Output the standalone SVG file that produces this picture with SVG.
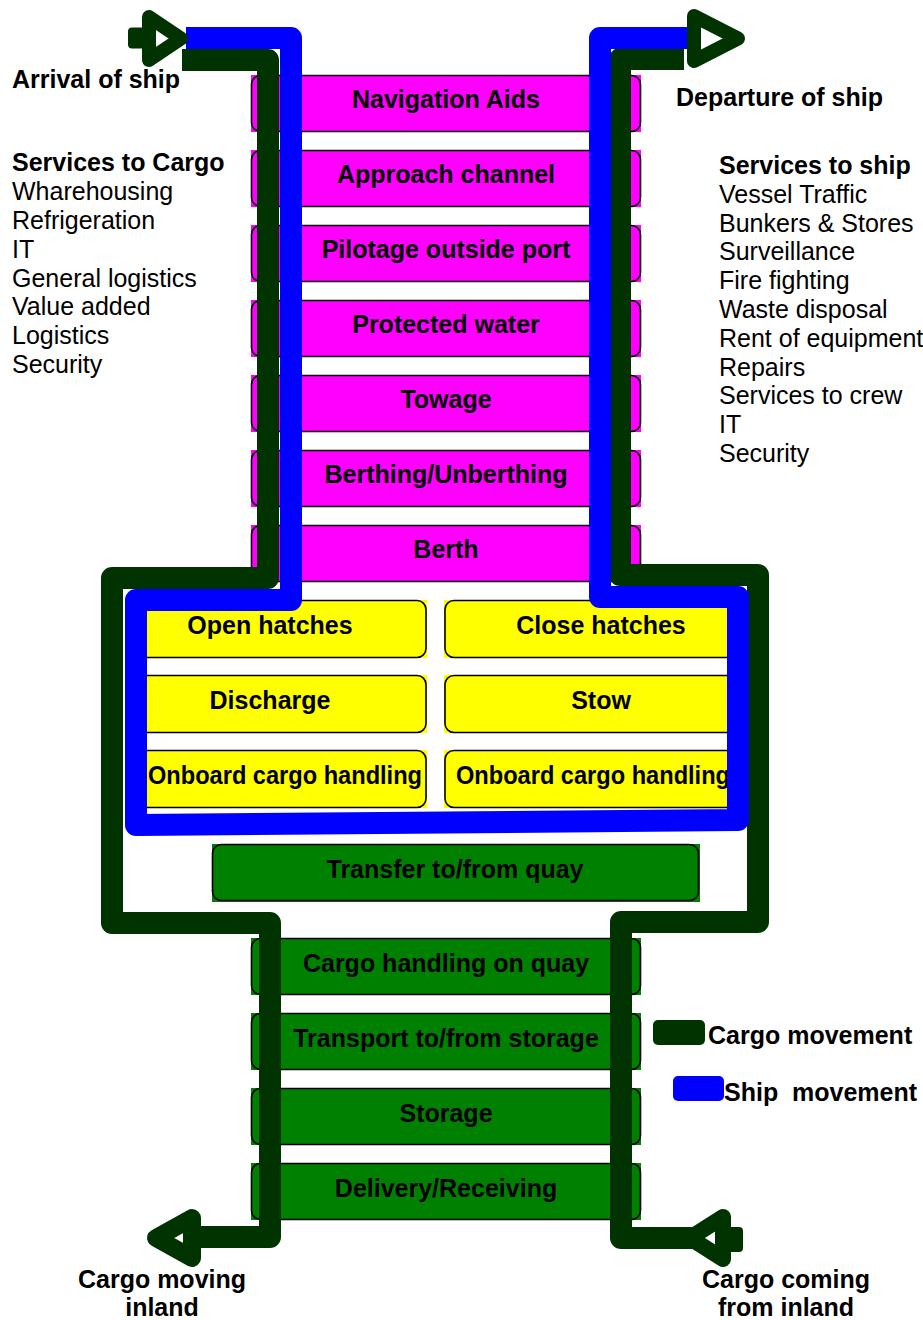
<svg xmlns="http://www.w3.org/2000/svg" width="923" height="1320" viewBox="0 0 923 1320">
<style>
.mf{fill:#FF00FF}
.yf{fill:#FFFF00}
.gf{fill:#008000}
.ol{fill:none;stroke:#000;stroke-width:1.6}
.lbl{font-family:"Liberation Sans",Arial,sans-serif;font-weight:bold;font-size:25px;text-anchor:middle;fill:#000}
.hd{font-family:"Liberation Sans",Arial,sans-serif;font-weight:bold;font-size:25px;fill:#000}
.tx{font-family:"Liberation Sans",Arial,sans-serif;font-size:25px;fill:#000}
.cg{fill:none;stroke:#003300;stroke-width:22;stroke-linejoin:round;stroke-linecap:butt}
.sh{fill:none;stroke:#0000FF;stroke-width:22;stroke-linejoin:round;stroke-linecap:butt}
.ah{fill:#FFFFFF;stroke:#003300;stroke-linejoin:round}
.tail{fill:#003300}
</style>
<rect width="923" height="1320" fill="#FFFFFF"/>

<!-- magenta nodes -->
<g id="navigation-aids"><rect class="mf" x="251" y="75" width="390" height="57"/><rect class="ol" x="251.5" y="75.5" width="389" height="56" rx="9"/><text class="lbl" x="446" y="108">Navigation Aids</text></g>
<g id="approach-channel"><rect class="mf" x="251" y="150" width="390" height="57"/><rect class="ol" x="251.5" y="150.5" width="389" height="56" rx="9"/><text class="lbl" x="446" y="183">Approach channel</text></g>
<g id="pilotage"><rect class="mf" x="251" y="225" width="390" height="57"/><rect class="ol" x="251.5" y="225.5" width="389" height="56" rx="9"/><text class="lbl" x="446" y="258">Pilotage outside port</text></g>
<g id="protected-water"><rect class="mf" x="251" y="300" width="390" height="57"/><rect class="ol" x="251.5" y="300.5" width="389" height="56" rx="9"/><text class="lbl" x="446" y="333">Protected water</text></g>
<g id="towage"><rect class="mf" x="251" y="375" width="390" height="57"/><rect class="ol" x="251.5" y="375.5" width="389" height="56" rx="9"/><text class="lbl" x="446" y="408">Towage</text></g>
<g id="berthing"><rect class="mf" x="251" y="450" width="390" height="57"/><rect class="ol" x="251.5" y="450.5" width="389" height="56" rx="9"/><text class="lbl" x="446" y="483">Berthing/Unberthing</text></g>
<g id="berth"><rect class="mf" x="251" y="525" width="390" height="57"/><rect class="ol" x="251.5" y="525.5" width="389" height="56" rx="9"/><text class="lbl" x="446" y="558">Berth</text></g>

<!-- yellow nodes -->
<g id="open-hatches"><rect class="yf" x="130" y="600" width="297" height="58"/><rect class="ol" x="130" y="600.5" width="296" height="57" rx="9"/><text class="lbl" x="270" y="634">Open hatches</text></g>
<g id="discharge"><rect class="yf" x="130" y="675" width="297" height="58"/><rect class="ol" x="130" y="675.5" width="296" height="57" rx="9"/><text class="lbl" x="270" y="709">Discharge</text></g>
<g id="onboard-left"><rect class="yf" x="130" y="750" width="297" height="58"/><rect class="ol" x="130" y="750.5" width="296" height="57" rx="9"/><text class="lbl" x="285" y="784" textLength="274" lengthAdjust="spacingAndGlyphs">Onboard cargo handling</text></g>
<g id="close-hatches"><rect class="yf" x="444" y="600" width="302" height="58"/><rect class="ol" x="445" y="600.5" width="300" height="57" rx="9"/><text class="lbl" x="601" y="634">Close hatches</text></g>
<g id="stow"><rect class="yf" x="444" y="675" width="302" height="58"/><rect class="ol" x="445" y="675.5" width="300" height="57" rx="9"/><text class="lbl" x="601" y="709">Stow</text></g>
<g id="onboard-right"><rect class="yf" x="444" y="750" width="302" height="58"/><rect class="ol" x="445" y="750.5" width="300" height="57" rx="9"/><text class="lbl" x="593" y="784" textLength="274" lengthAdjust="spacingAndGlyphs">Onboard cargo handling</text></g>

<!-- green nodes -->
<g id="transfer"><rect class="gf" x="212" y="844" width="488" height="58"/><rect class="ol" x="212.5" y="844.5" width="486" height="56" rx="9"/><text class="lbl" x="455" y="878">Transfer to/from quay</text></g>
<g id="cargo-handling-quay"><rect class="gf" x="251" y="938" width="390" height="57"/><rect class="ol" x="251.5" y="938.5" width="389" height="56" rx="9"/><text class="lbl" x="446" y="972">Cargo handling on quay</text></g>
<g id="transport-storage"><rect class="gf" x="251" y="1013" width="390" height="57"/><rect class="ol" x="251.5" y="1013.5" width="389" height="56" rx="9"/><text class="lbl" x="446" y="1047">Transport to/from storage</text></g>
<g id="storage"><rect class="gf" x="251" y="1088" width="390" height="57"/><rect class="ol" x="251.5" y="1088.5" width="389" height="56" rx="9"/><text class="lbl" x="446" y="1122">Storage</text></g>
<g id="delivery"><rect class="gf" x="251" y="1163" width="390" height="57"/><rect class="ol" x="251.5" y="1163.5" width="389" height="56" rx="9"/><text class="lbl" x="446" y="1197">Delivery/Receiving</text></g>

<!-- connectors -->
<g id="connectors">
<path class="cg" d="M182,60 H268 V578 H112 V923 H270 V1237 H194"/>
<path class="cg" d="M684,59 H620 V575 H758 V922 H621 V1238 H692"/>
<path class="sh" d="M186,38 H291 V600 H136 V825 L738,820 V597 H600 V38 H693"/>
<rect class="tail" x="128" y="27.5" width="24" height="21" rx="4"/>
<path class="ah" stroke-width="14" d="M149,17 L181,38.5 L149,60 Z"/>
<path class="ah" stroke-width="14" d="M694,16 L738,38.5 L694,61 Z"/>
<path class="ah" stroke-width="18" d="M192,1218 L156,1238 L192,1258 Z"/>
<rect class="tail" x="718" y="1227" width="25" height="25" rx="4"/>
<path class="ah" stroke-width="16" d="M723,1217 L690,1238 L723,1259 Z"/>
</g>

<!-- side texts -->
<g id="arrival"><text class="hd" x="12" y="88">Arrival of ship</text></g>
<g id="departure"><text class="hd" x="676" y="106">Departure of ship</text></g>
<g id="services-cargo">
<text class="hd" x="12" y="171">Services to Cargo</text>
<text class="tx" x="12" y="200">Wharehousing</text>
<text class="tx" x="12" y="229">Refrigeration</text>
<text class="tx" x="12" y="258">IT</text>
<text class="tx" x="12" y="287">General logistics</text>
<text class="tx" x="12" y="315">Value added</text>
<text class="tx" x="12" y="344">Logistics</text>
<text class="tx" x="12" y="373">Security</text>
</g>
<g id="services-ship">
<text class="hd" x="719" y="174">Services to ship</text>
<text class="tx" x="719" y="203">Vessel Traffic</text>
<text class="tx" x="719" y="232">Bunkers &amp; Stores</text>
<text class="tx" x="719" y="260">Surveillance</text>
<text class="tx" x="719" y="289">Fire fighting</text>
<text class="tx" x="719" y="318">Waste disposal</text>
<text class="tx" x="719" y="347">Rent of equipment</text>
<text class="tx" x="719" y="376">Repairs</text>
<text class="tx" x="719" y="404">Services to crew</text>
<text class="tx" x="719" y="433">IT</text>
<text class="tx" x="719" y="462">Security</text>
</g>
<g id="cargo-inland">
<text class="hd" x="162" y="1288" text-anchor="middle">Cargo moving</text>
<text class="hd" x="162" y="1316" text-anchor="middle">inland</text>
</g>
<g id="cargo-from-inland">
<text class="hd" x="786" y="1288" text-anchor="middle">Cargo coming</text>
<text class="hd" x="786" y="1316" text-anchor="middle">from inland</text>
</g>

<!-- legend -->
<g id="legend">
<rect x="653" y="1020" width="52" height="25" rx="5" fill="#003300"/>
<text class="hd" x="708" y="1044">Cargo movement</text>
<rect x="673" y="1076" width="51" height="25" rx="5" fill="#0000FF"/>
<text class="hd" x="724" y="1101" xml:space="preserve">Ship  movement</text>
</g>
</svg>
